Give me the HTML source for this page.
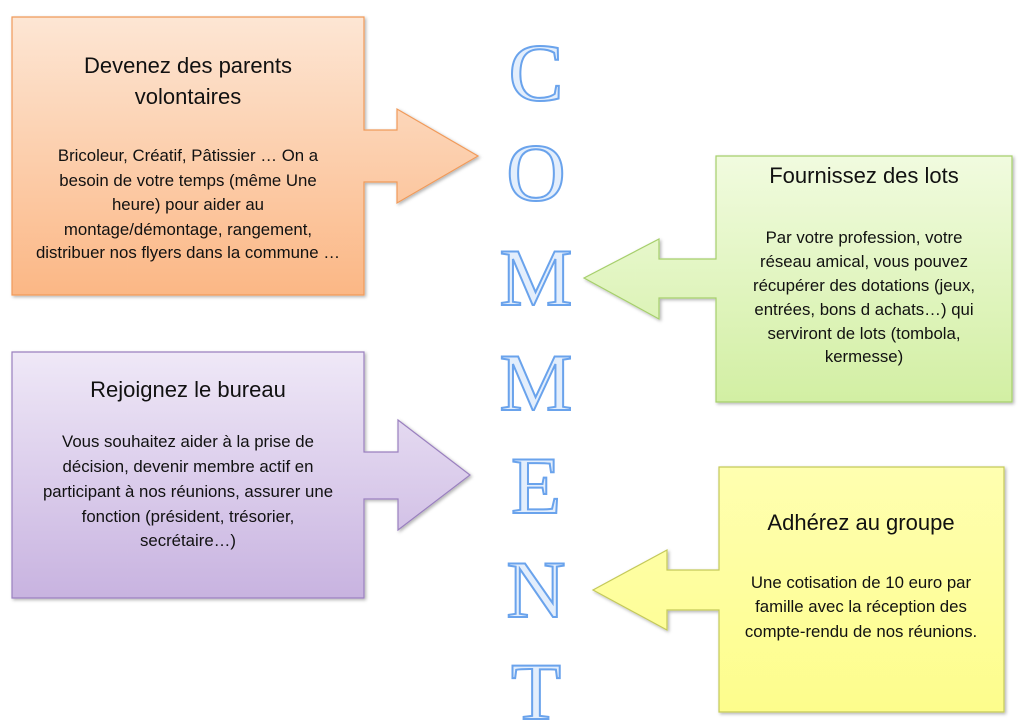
<!DOCTYPE html>
<html><head><meta charset="utf-8"><style>
html,body{margin:0;padding:0;background:#fff;}
svg{display:block;}
.t{font-family:"Liberation Sans",sans-serif;font-size:22px;fill:#111;text-anchor:middle;}
.b{font-family:"Liberation Sans",sans-serif;font-size:16.8px;fill:#111;text-anchor:middle;}
.L{font-family:"Liberation Serif",serif;font-size:82px;fill:#e3eefc;stroke:#6aa3ec;stroke-width:2;text-anchor:middle;}
</style></head><body>
<svg width="1024" height="726" viewBox="0 0 1024 726">
<defs>
<linearGradient id="go" x1="0" y1="0" x2="0" y2="1"><stop offset="0" stop-color="#fde6d4"/><stop offset="1" stop-color="#fbb785"/></linearGradient>
<linearGradient id="gp" x1="0" y1="0" x2="0" y2="1"><stop offset="0" stop-color="#efe8f7"/><stop offset="1" stop-color="#c8b3e0"/></linearGradient>
<linearGradient id="gg" x1="0" y1="0" x2="0" y2="1"><stop offset="0" stop-color="#f1fbdf"/><stop offset="1" stop-color="#d2efa3"/></linearGradient>
<linearGradient id="gy" x1="0" y1="0" x2="0" y2="1"><stop offset="0" stop-color="#ffffb0"/><stop offset="1" stop-color="#fdfd8c"/></linearGradient>
<filter id="sh" x="-5%" y="-5%" width="110%" height="110%"><feDropShadow dx="1.5" dy="1.5" stdDeviation="1.5" flood-opacity="0.3"/></filter>
</defs>
<path filter="url(#sh)" d="M12,17 H364 V130 H397 V109 L478,156 L397,203 V182 H364 V295 H12 Z" fill="url(#go)" stroke="#f09a5a" stroke-width="1.2"/>
<path filter="url(#sh)" d="M12,352 H364 V452 H398 V420 L470,475 L398,530 V499 H364 V598 H12 Z" fill="url(#gp)" stroke="#9a80bf" stroke-width="1.2"/>
<path filter="url(#sh)" d="M1012,156 H716 V259 H659 V239 L584,278 L659,319 V298 H716 V402 H1012 Z" fill="url(#gg)" stroke="#a6cf6c" stroke-width="1.2"/>
<path filter="url(#sh)" d="M1004,467 H719 V570 H667 V550 L593,590 L667,630 V610 H719 V712 H1004 Z" fill="url(#gy)" stroke="#c4c95a" stroke-width="1.2"/>

<text class="t" x="188" y="73">Devenez des parents</text>
<text class="t" x="188" y="104">volontaires</text>
<text class="b" x="188" y="161">Bricoleur, Créatif, Pâtissier … On a</text>
<text class="b" x="188" y="186">besoin de votre temps (même Une</text>
<text class="b" x="188" y="210">heure) pour aider au</text>
<text class="b" x="188" y="235">montage/démontage, rangement,</text>
<text class="b" x="188" y="258">distribuer nos flyers dans la commune …</text>

<text class="t" x="188" y="397">Rejoignez le bureau</text>
<text class="b" x="188" y="447">Vous souhaitez aider à la prise de</text>
<text class="b" x="188" y="472">décision, devenir membre actif en</text>
<text class="b" x="188" y="497">participant à nos réunions, assurer une</text>
<text class="b" x="188" y="522">fonction (président, trésorier,</text>
<text class="b" x="188" y="546">secrétaire…)</text>

<text class="t" x="864" y="183">Fournissez des lots</text>
<text class="b" x="864" y="243">Par votre profession, votre</text>
<text class="b" x="864" y="267">réseau amical, vous pouvez</text>
<text class="b" x="864" y="291">récupérer des dotations (jeux,</text>
<text class="b" x="864" y="315">entrées, bons d achats…) qui</text>
<text class="b" x="864" y="339">serviront de lots (tombola,</text>
<text class="b" x="864" y="362">kermesse)</text>

<text class="t" x="861" y="530">Adhérez au groupe</text>
<text class="b" x="861" y="588">Une cotisation de 10 euro par</text>
<text class="b" x="861" y="612">famille avec la réception des</text>
<text class="b" x="861" y="637">compte-rendu de nos réunions.</text>

<text class="L" x="536" y="100">C</text>
<text class="L" x="536" y="200">O</text>
<text class="L" x="536" y="305">M</text>
<text class="L" x="536" y="410">M</text>
<text class="L" x="536" y="513">E</text>
<text class="L" x="536" y="617">N</text>
<text class="L" x="536" y="719">T</text>
</svg>
</body></html>
